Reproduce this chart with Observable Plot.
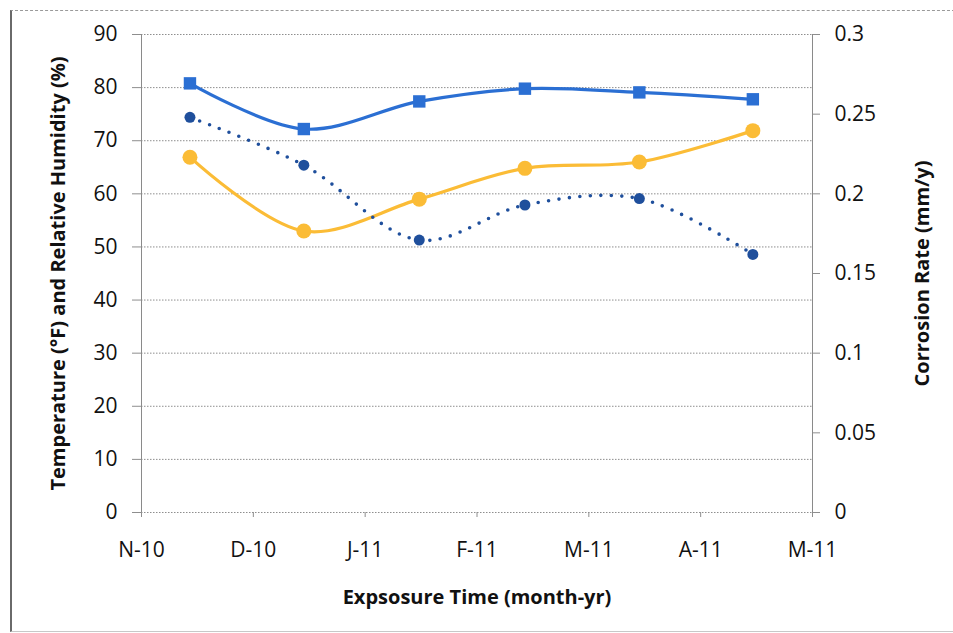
<!DOCTYPE html>
<html>
<head>
<meta charset="utf-8">
<script src="https://cdn.jsdelivr.net/npm/d3@7"></script>
<script src="https://cdn.jsdelivr.net/npm/@observablehq/plot@0.6"></script>
<style>
  html, body { margin: 0; padding: 0; background: #fff; }
  #chart { position: relative; width: 953px; height: 633px; overflow: hidden; }
  #border {
    position: absolute; left: 10px; top: 10px; right: -2px; bottom: 1px;
    border-left: 2px solid #6a6a6a; border-top: 1px dashed #9a9a9a; border-bottom: 1px solid #c8c8c8;
  }
  #chart svg { position: absolute; left: 0; top: 0; }
</style>
</head>
<body>
<div id="chart"><div id="border"></div></div>
<script>
// Month tick labels along the exposure-time axis (Nov 2010 .. May 2011)
const monthLabels = ["N-10", "D-10", "J-11", "F-11", "M-11", "A-11", "M-11"];

// Sampling dates
const sampleDates = ["2010-11-14", "2010-12-15", "2011-01-16", "2011-02-13", "2011-03-15", "2011-04-15"];

// Left axis series
const relativeHumidity = [80.8, 72.2, 77.4, 79.8, 79.1, 77.8];   // %
const temperature = [66.9, 53.0, 59.0, 64.8, 66.0, 71.9];        // °F

// Right axis series
const corrosionRate = [0.248, 0.218, 0.171, 0.193, 0.197, 0.162]; // mm/y

// Axis ticks
const leftTicks = [0, 10, 20, 30, 40, 50, 60, 70, 80, 90];
const rateTicks = [0, 0.05, 0.1, 0.15, 0.2, 0.25, 0.3];

const leftMax = 90;
const rateMax = 0.3;
const rateToLeft = leftMax / rateMax; // maps the right axis onto the left scale

// Position of a date in months counted from 1 Nov 2010
function monthPos(s) {
  const [y, m, d] = s.split("-").map(Number);
  const idx = (y - 2010) * 12 + (m - 1) - 10;
  const days = new Date(Date.UTC(y, m, 0)).getUTCDate();
  return idx + (d - 1) / days;
}

const rows = sampleDates.map((date, i) => ({
  t: monthPos(date),
  rh: relativeHumidity[i],
  temp: temperature[i],
  rate: corrosionRate[i]
}));

const blue = "#2b6fd3";
const orange = "#fbbc36";
const navy = "#1f4f9c";
const grid = "#8e8e8e";

const plot = Plot.plot({
  width: 953,
  height: 633,
  marginLeft: 141,
  marginRight: 141,
  marginTop: 34,
  marginBottom: 121,
  style: { fontFamily: "'Open Sans', Lato, sans-serif", fontSize: "21px", color: "#111", background: "transparent" },
  x: { type: "linear", domain: [0, monthLabels.length - 1] },
  y: { domain: [0, leftMax] },
  marks: [
    Plot.gridY(leftTicks, { stroke: grid, strokeOpacity: 1, strokeDasharray: "1.5,1.5" }),
    Plot.ruleX([0, monthLabels.length - 1], { y1: 0, y2: leftMax, stroke: "#8a8a8a" }),
    Plot.axisY({ anchor: "left", ticks: leftTicks, tickSize: 9, tickPadding: 15, stroke: grid, fill: "#111", label: null }),
    Plot.axisY({
      anchor: "right",
      ticks: rateTicks.map(v => v * rateToLeft),
      tickFormat: v => String(+(v / rateToLeft).toFixed(3)),
      tickSize: 7, tickPadding: 15, stroke: grid, fill: "#111", label: null
    }),
    Plot.axisX({
      ticks: d3.range(monthLabels.length),
      tickFormat: i => monthLabels[i],
      tickSize: 5, tickPadding: 25, stroke: grid, fill: "#111", label: null
    }),

    // Relative humidity (solid blue, squares)
    Plot.line(rows, { x: "t", y: "rh", stroke: blue, strokeWidth: 3.2, curve: "catmull-rom" }),
    Plot.dot(rows, { x: "t", y: "rh", symbol: "square", r: 7, fill: blue }),

    // Temperature (solid orange, circles)
    Plot.line(rows, { x: "t", y: "temp", stroke: orange, strokeWidth: 3.2, curve: "catmull-rom" }),
    Plot.dot(rows, { x: "t", y: "temp", r: 7.5, fill: orange }),

    // Corrosion rate on the right axis (dotted navy, circles)
    Plot.line(rows, {
      x: "t", y: d => d.rate * rateToLeft, stroke: navy, strokeWidth: 3.6,
      strokeDasharray: "0,10.5", strokeLinecap: "round", curve: "catmull-rom"
    }),
    Plot.dot(rows, { x: "t", y: d => d.rate * rateToLeft, r: 5.5, fill: navy }),

    // Axis titles
    Plot.text(["Temperature (°F) and Relative Humidity (%)"], {
      frameAnchor: "left", dx: -83, rotate: -90, textAnchor: "middle", lineAnchor: "middle",
      fontWeight: "bold", fontSize: 20, fill: "#111"
    }),
    Plot.text(["Corrosion Rate (mm/y)"], {
      frameAnchor: "right", dx: 110, rotate: -90, textAnchor: "middle", lineAnchor: "middle",
      fontWeight: "bold", fontSize: 20, fill: "#111"
    }),
    Plot.text(["Expsosure Time (month-yr)"], {
      frameAnchor: "bottom", dy: 85, textAnchor: "middle", lineAnchor: "middle",
      fontWeight: "bold", fontSize: 20, fill: "#111"
    })
  ]
});

document.getElementById("chart").appendChild(plot);
</script>
</body>
</html>
